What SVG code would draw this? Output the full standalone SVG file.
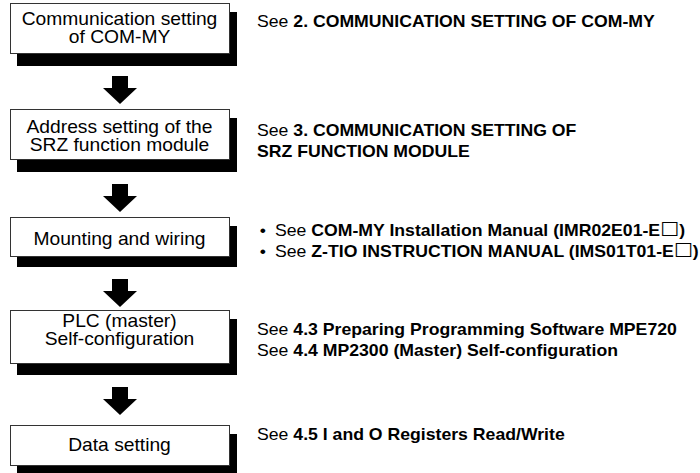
<svg xmlns="http://www.w3.org/2000/svg" width="700" height="473" viewBox="0 0 700 473">
<style>
.sh{fill:#000}
.bx{fill:#fff;stroke:#333;stroke-width:1}
.bt{font-family:"Liberation Sans",Arial,sans-serif;font-size:17.5px;fill:#000;text-anchor:middle}
.nt{font-family:"Liberation Sans",Arial,sans-serif;font-size:16.2px;fill:#000}
.b{font-weight:bold}
.sq{font-family:"DejaVu Sans",sans-serif;font-size:18.5px;font-weight:bold}
.ar{fill:#000}
</style>
<rect width="700" height="473" fill="#fff"/>
<g id="connectors">
<path class="ar" d="M112,76H128V88H137L120,104L103,88H112Z"/>
<path class="ar" d="M112,184H128V196H137L120,212L103,196H112Z"/>
<path class="ar" d="M112,279H128V291H137L120,307L103,291H112Z"/>
<path class="ar" d="M112,387H128V399H137L120,415L103,399H112Z"/>
</g>
<g id="n1">
<rect class="sh" x="17" y="12" width="220" height="54"/>
<rect class="bx" x="10.5" y="3.5" width="219" height="50"/>
<g transform="translate(119.5,0) scale(1.1,1)"><text class="bt" x="0" y="25">Communication setting</text><text class="bt" x="0" y="43">of COM-MY</text></g>
</g>
<g id="n2">
<rect class="sh" x="17" y="118" width="220" height="54"/>
<rect class="bx" x="10.5" y="109.5" width="219" height="50"/>
<g transform="translate(119.5,0) scale(1.1,1)"><text class="bt" x="0" y="133">Address setting of the</text><text class="bt" x="0" y="151">SRZ function module</text></g>
</g>
<g id="n3">
<rect class="sh" x="17" y="226" width="220" height="41"/>
<rect class="bx" x="10.5" y="217.5" width="219" height="39"/>
<g transform="translate(119.5,0) scale(1.1,1)"><text class="bt" x="0" y="245">Mounting and wiring</text></g>
</g>
<g id="n4">
<rect class="sh" x="17" y="319" width="220" height="56"/>
<rect class="bx" x="10.5" y="310.5" width="219" height="53"/>
<g transform="translate(119.5,0) scale(1.1,1)"><text class="bt" x="0" y="327">PLC (master)</text><text class="bt" x="0" y="345">Self-configuration</text></g>
</g>
<g id="n5">
<rect class="sh" x="17" y="434" width="220" height="43"/>
<rect class="bx" x="10.5" y="425.5" width="219" height="40"/>
<g transform="translate(119.5,0) scale(1.1,1)"><text class="bt" x="0" y="451">Data setting</text></g>
</g>
<g id="notes" transform="translate(257,0) scale(1.09,1)">
<text class="nt" x="0" y="27">See <tspan class="b">2. COMMUNICATION SETTING OF COM-MY</tspan></text>
<text class="nt" x="0" y="136">See <tspan class="b">3. COMMUNICATION SETTING OF</tspan></text>
<text class="nt b" x="0" y="157">SRZ FUNCTION MODULE</text>
<text class="nt" x="2.5" y="236">•</text>
<text class="nt" x="16.5" y="236">See <tspan class="b">COM-MY Installation Manual (IMR02E01-E</tspan><tspan class="sq" dy="-1.5">□</tspan><tspan class="b" dy="1.5">)</tspan></text>
<text class="nt" x="2.5" y="257">•</text>
<text class="nt" x="16.5" y="257">See <tspan class="b">Z-TIO INSTRUCTION MANUAL (IMS01T01-E</tspan><tspan class="sq" dy="-1.5">□</tspan><tspan class="b" dy="1.5">)</tspan></text>
<text class="nt" x="0" y="335">See <tspan class="b">4.3 Preparing Programming Software MPE720</tspan></text>
<text class="nt" x="0" y="356">See <tspan class="b">4.4 MP2300 (Master) Self-configuration</tspan></text>
<text class="nt" x="0" y="440">See <tspan class="b">4.5 I and O Registers Read/Write</tspan></text>
</g>
</svg>
